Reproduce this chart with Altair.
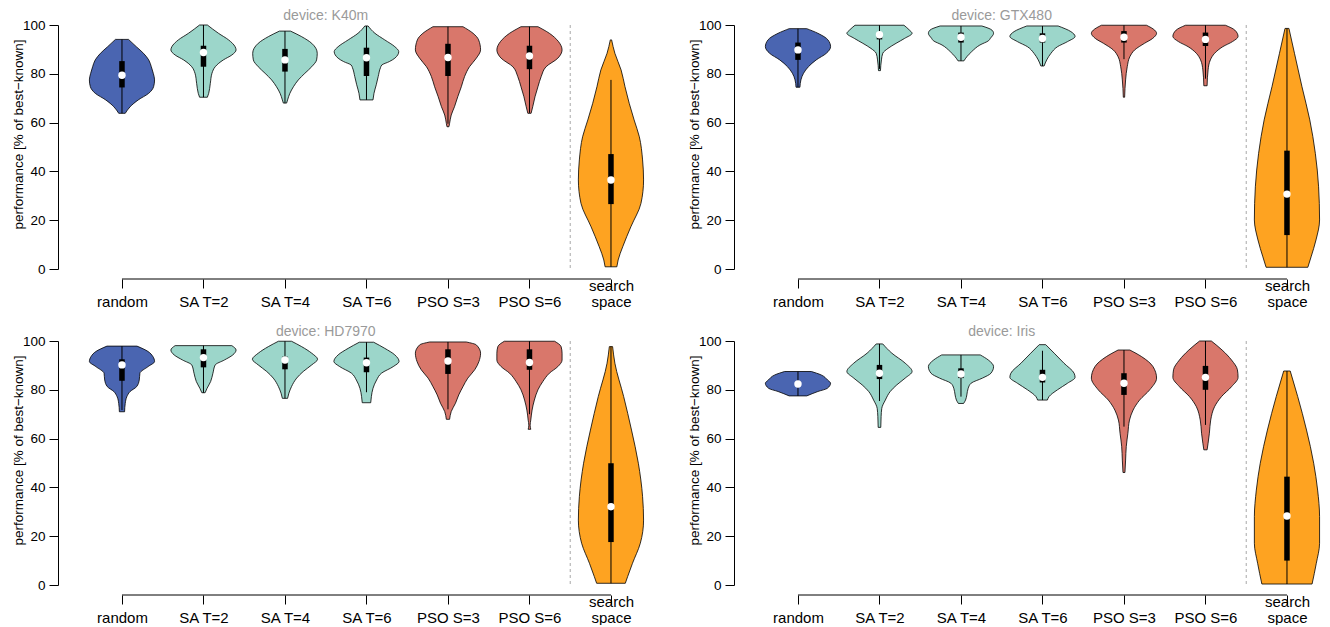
import json
import altair as alt
import pandas as pd

# ---------------- data ----------------
CATEGORIES = ["random", "SA T=2", "SA T=4", "SA T=6", "PSO S=3", "PSO S=6", "search space"]
# tick labels as lines (single-line labels sit on the last line)
X_TICK_LABELS = [["", "random"], ["", "SA T=2"], ["", "SA T=4"], ["", "SA T=6"],
                 ["", "PSO S=3"], ["", "PSO S=6"], ["search", "space"]]
GROUPS = ["random", "SA", "SA", "SA", "PSO", "PSO", "search"]
GROUP_NAMES = ["random", "SA", "PSO", "search"]
GROUP_COLORS = ["#4a65b1", "#9cd6ca", "#d9776b", "#fea321"]
DEVICES = ["K40m", "GTX480", "HD7970", "Iris"]
Y_TICKS = [0, 20, 40, 60, 80, 100]

# violin outlines: performance levels (bottom -> top) and relative half-widths
K40M_Y = [
    [63.8, 66.5, 69.3, 72.0, 74.7, 77.5, 80.2, 82.9, 85.7, 88.4, 91.1, 94.1],
    [70.4, 72.0, 76.1, 80.2, 82.9, 85.7, 87.7, 89.8, 91.1, 93.9, 96.6, 100.0],
    [68.0, 69.3, 72.0, 74.7, 77.5, 80.2, 82.9, 85.7, 88.4, 92.5, 95.3, 97.5],
    [69.3, 72.0, 75.5, 78.9, 82.5, 83.6, 85.0, 86.4, 89.1, 91.1, 93.9, 96.6, 99.6],
    [58.3, 59.7, 63.1, 66.5, 70.6, 74.7, 78.9, 82.9, 86.4, 89.8, 93.9, 96.6, 99.3],
    [63.8, 66.5, 70.6, 74.7, 78.9, 82.9, 86.4, 89.8, 93.2, 96.6, 99.3],
    [0.9, 3.7, 9.1, 17.3, 26.9, 36.5, 44.7, 54.2, 61.1, 67.9, 74.7, 81.6, 88.4, 93.9],
]
K40M_W = [
    [0.10, 0.25, 0.50, 0.82, 0.97, 1.00, 0.96, 0.90, 0.82, 0.66, 0.44, 0.20],
    [0.12, 0.16, 0.21, 0.26, 0.36, 0.61, 0.87, 1.00, 0.97, 0.77, 0.46, 0.12],
    [0.05, 0.08, 0.15, 0.26, 0.41, 0.61, 0.82, 0.97, 0.99, 0.82, 0.50, 0.17],
    [0.20, 0.23, 0.30, 0.36, 0.43, 0.47, 0.70, 0.87, 0.99, 0.87, 0.56, 0.26, 0.05],
    [0.03, 0.05, 0.10, 0.20, 0.30, 0.41, 0.51, 0.66, 0.87, 1.00, 0.94, 0.77, 0.46],
    [0.05, 0.10, 0.17, 0.26, 0.36, 0.51, 0.87, 1.00, 0.89, 0.61, 0.26],
    [0.18, 0.22, 0.36, 0.61, 0.92, 1.00, 0.97, 0.87, 0.71, 0.56, 0.43, 0.31, 0.12, 0.02],
]
# box statistics: q1, median, q3, lower whisker, upper whisker
K40M_BOX = [
    [74.4, 79.4, 85.2, 63.8, 94.1],
    [82.9, 88.7, 91.5, 70.4, 100.0],
    [80.9, 85.7, 90.2, 68.0, 97.5],
    [79.1, 86.6, 90.7, 69.3, 99.6],
    [79.1, 86.7, 92.3, 59.5, 99.3],
    [81.9, 87.3, 91.5, 64.0, 99.3],
    [26.6, 36.5, 47.1, 0.9, 77.5],
]

GTX480_Y = [
    [74.5, 77.5, 80.2, 82.9, 85.7, 88.4, 91.1, 93.9, 96.6, 98.5],
    [81.3, 85.7, 88.4, 90.4, 92.5, 94.5, 96.6, 97.9, 99.9],
    [85.3, 87.0, 89.1, 91.8, 93.6, 94.5, 96.6, 97.9, 99.6],
    [83.2, 85.7, 88.4, 91.1, 93.2, 95.3, 97.3, 99.6],
    [70.4, 77.5, 82.9, 87.0, 89.8, 92.5, 94.5, 96.6, 97.9, 99.9],
    [75.1, 81.6, 85.7, 88.4, 91.1, 93.2, 95.3, 97.9, 99.9],
    [0.7, 5.0, 11.9, 20.1, 33.7, 47.4, 61.1, 74.7, 88.4, 98.6],
]
GTX480_W = [
    [0.06, 0.09, 0.17, 0.32, 0.56, 0.87, 1.00, 0.92, 0.61, 0.27],
    [0.03, 0.06, 0.10, 0.26, 0.51, 0.77, 1.00, 0.92, 0.75],
    [0.09, 0.18, 0.33, 0.58, 0.85, 0.90, 1.00, 0.95, 0.64],
    [0.05, 0.13, 0.26, 0.46, 0.77, 1.00, 0.87, 0.48],
    [0.02, 0.05, 0.10, 0.18, 0.33, 0.63, 0.88, 1.00, 0.94, 0.69],
    [0.05, 0.08, 0.15, 0.28, 0.53, 0.83, 1.00, 0.90, 0.61],
    [0.64, 0.74, 0.89, 1.00, 0.97, 0.87, 0.70, 0.46, 0.23, 0.06],
]
GTX480_BOX = [
    [85.7, 89.8, 92.8, 74.5, 98.5],
    [94.1, 96.0, 96.6, 82.0, 99.9],
    [92.8, 95.0, 96.9, 85.3, 99.6],
    [92.8, 94.5, 96.6, 83.2, 99.6],
    [92.8, 95.0, 97.5, 86.0, 99.9],
    [91.4, 94.1, 96.9, 78.0, 99.9],
    [13.9, 30.7, 48.5, 0.7, 98.6],
]

HD7970_Y = [
    [71.0, 74.4, 77.2, 79.3, 81.3, 84.0, 86.8, 89.5, 91.6, 93.6, 95.7, 97.9],
    [78.8, 80.6, 83.4, 86.8, 90.2, 92.2, 94.3, 96.3, 98.1],
    [76.5, 78.6, 81.3, 84.8, 87.5, 90.2, 92.5, 95.0, 97.7, 99.9],
    [74.7, 77.2, 80.6, 84.0, 86.8, 89.5, 91.6, 94.3, 97.0, 99.5],
    [67.9, 71.1, 74.5, 77.9, 81.3, 84.8, 88.2, 91.6, 95.0, 98.4, 99.6],
    [63.8, 65.5, 67.6, 71.7, 75.8, 80.0, 83.4, 86.8, 89.5, 92.2, 95.0, 97.7, 99.9],
    [0.7, 3.4, 8.9, 17.1, 26.6, 36.2, 49.9, 63.5, 77.2, 90.9, 97.7],
]
HD7970_W = [
    [0.08, 0.10, 0.15, 0.25, 0.45, 0.53, 0.55, 0.80, 1.00, 0.95, 0.80, 0.46],
    [0.05, 0.11, 0.22, 0.29, 0.36, 0.64, 0.90, 1.00, 0.87],
    [0.08, 0.12, 0.20, 0.36, 0.56, 0.82, 1.00, 0.82, 0.51, 0.20],
    [0.13, 0.15, 0.20, 0.31, 0.46, 0.82, 1.00, 0.87, 0.56, 0.22],
    [0.05, 0.10, 0.23, 0.33, 0.46, 0.61, 0.82, 0.95, 1.00, 0.87, 0.56],
    [0.04, 0.02, 0.04, 0.08, 0.15, 0.26, 0.41, 0.61, 0.87, 1.00, 1.00, 0.97, 0.77],
    [0.44, 0.51, 0.66, 0.90, 1.00, 0.97, 0.84, 0.63, 0.39, 0.12, 0.05],
]
HD7970_BOX = [
    [83.7, 90.2, 92.5, 71.7, 97.9],
    [89.2, 93.2, 96.6, 78.8, 98.1],
    [88.4, 92.2, 93.6, 76.5, 99.9],
    [87.2, 91.1, 93.2, 79.0, 99.5],
    [86.5, 91.8, 96.6, 72.0, 99.6],
    [88.2, 91.2, 96.6, 70.0, 99.9],
    [17.6, 32.1, 49.9, 0.7, 97.7],
]

IRIS_Y = [
    [77.5, 79.3, 80.6, 82.7, 84.0, 86.1, 87.5],
    [64.6, 69.0, 72.4, 75.8, 79.3, 82.0, 84.8, 87.5, 90.9, 95.0, 98.8],
    [74.4, 75.8, 77.9, 80.6, 82.7, 84.8, 86.8, 89.5, 92.2, 94.3],
    [75.8, 77.2, 80.0, 82.7, 85.1, 86.8, 90.9, 95.0, 98.5],
    [46.1, 51.2, 56.7, 62.2, 67.6, 71.7, 75.8, 80.0, 84.8, 89.5, 93.6, 96.3],
    [55.4, 58.1, 62.2, 67.6, 73.1, 77.2, 81.3, 85.1, 88.2, 92.2, 96.3, 100.0],
    [0.4, 8.9, 17.1, 28.0, 38.9, 49.9, 63.5, 77.2, 87.7],
]
IRIS_W = [
    [0.27, 0.61, 0.90, 1.00, 0.91, 0.71, 0.41],
    [0.04, 0.05, 0.07, 0.18, 0.33, 0.53, 0.79, 1.00, 0.79, 0.38, 0.10],
    [0.08, 0.14, 0.18, 0.22, 0.31, 0.66, 0.92, 1.00, 0.84, 0.59],
    [0.15, 0.20, 0.46, 0.77, 1.00, 0.97, 0.66, 0.36, 0.10],
    [0.03, 0.05, 0.07, 0.12, 0.17, 0.28, 0.48, 0.79, 1.00, 0.89, 0.54, 0.18],
    [0.05, 0.08, 0.12, 0.16, 0.28, 0.49, 0.80, 1.00, 0.98, 0.80, 0.51, 0.18],
    [0.77, 0.90, 1.00, 1.00, 0.94, 0.82, 0.60, 0.33, 0.10],
]
IRIS_BOX = [
    [81.5, 82.4, 83.5, 77.5, 87.5],
    [84.4, 86.8, 90.2, 75.4, 98.8],
    [84.8, 86.5, 88.8, 77.2, 94.3],
    [83.0, 85.1, 88.2, 75.8, 96.0],
    [77.9, 82.7, 86.8, 64.9, 96.3],
    [80.0, 85.1, 89.8, 65.6, 100.0],
    [10.0, 28.3, 44.4, 0.4, 87.7],
]

# ---------------- layout / style ----------------
FONT = "Liberation Sans"
PW, PH = 585, 244
X_DOMAIN = [-0.785, 6.393]
HALF = 0.4            # maximal half-width of a violin, in category units
AXIS_OFFSET = 10


def panel(device, ys, ws, boxes):
    vrows = []
    for i, (yl, wl) in enumerate(zip(ys, ws)):
        for y, w in zip(yl, wl):
            vrows.append({"cat": i, "group": GROUPS[i], "y": y, "w": w})
    vdf = pd.DataFrame(vrows)
    bdf = pd.DataFrame([
        {"cat": i, "q1": b[0], "med": b[1], "q3": b[2], "lo": b[3], "hi": b[4]}
        for i, b in enumerate(boxes)
    ])
    one = pd.DataFrame({"k": [0]})

    xs = alt.Scale(domain=X_DOMAIN, nice=False, zero=False)
    ysc = alt.Scale(domain=[0, 100], nice=False, zero=False)
    label_expr = json.dumps(X_TICK_LABELS).replace('"', "'") + "[datum.value]"

    xaxis = alt.Axis(
        values=list(range(len(CATEGORIES))), labelExpr=label_expr, title=None,
        grid=False, domain=False, offset=AXIS_OFFSET, tickSize=9, tickColor="black",
        labelFontSize=15, labelColor="black", labelBaseline="alphabetic",
        labelPadding=2, labelLineHeight=16, labelFont=FONT,
    )
    yaxis = alt.Axis(
        values=Y_TICKS, grid=False, tickSize=9, tickColor="black", domainColor="black",
        labelFontSize=13.5, labelColor="black", labelPadding=4, labelFont=FONT,
        title="performance [% of best\u2212known]", titleFontSize=13.5,
        titleFontWeight="normal", titleColor="black", titleFont=FONT,
        titleX=-40, titleY=109, titleAngle=270, titleAlign="center",
        titleBaseline="middle",
    )

    violins = alt.Chart(vdf).transform_calculate(
        xl=f"datum.cat - {HALF} * datum.w", xr=f"datum.cat + {HALF} * datum.w"
    ).mark_area(
        orient="horizontal", interpolate="monotone", stroke="black",
        strokeWidth=0.8, opacity=1, fillOpacity=1,
    ).encode(
        x=alt.X("xl:Q", scale=xs, axis=xaxis),
        x2="xr:Q",
        y=alt.Y("y:Q", scale=ysc, axis=yaxis),
        detail="cat:N",
        color=alt.Color("group:N", scale=alt.Scale(domain=GROUP_NAMES, range=GROUP_COLORS), legend=None),
    )

    whisk = alt.Chart(bdf).mark_rule(color="black", strokeWidth=1).encode(
        x="cat:Q", y="lo:Q", y2="hi:Q"
    )
    box = alt.Chart(bdf).mark_rule(color="black", strokeWidth=5.5, strokeCap="butt").encode(
        x="cat:Q", y="q1:Q", y2="q3:Q"
    )
    med = alt.Chart(bdf).mark_point(filled=True, color="white", opacity=1, size=55, shape="circle").encode(
        x="cat:Q", y="med:Q"
    )
    sep = alt.Chart(one).mark_rule(color="#a8a8a8", strokeDash=[3, 3], strokeWidth=1).encode(
        x=alt.datum(5.5), y=alt.value(0), y2=alt.value(PH)
    )
    xline = alt.Chart(one).mark_rule(color="black", strokeWidth=1).encode(
        x=alt.datum(0), x2=alt.datum(len(CATEGORIES) - 1), y=alt.value(PH + AXIS_OFFSET)
    )
    title = alt.Chart(one).mark_text(
        text=f"device: {device}", color="#9a9a9a", fontSize=14, font=FONT,
        baseline="alphabetic", align="center",
    ).encode(x=alt.datum(2.5), y=alt.value(-5))

    return alt.layer(violins, sep, whisk, box, med, xline, title).properties(width=PW, height=PH)


p1 = panel(DEVICES[0], K40M_Y, K40M_W, K40M_BOX)
p2 = panel(DEVICES[1], GTX480_Y, GTX480_W, GTX480_BOX)
p3 = panel(DEVICES[2], HD7970_Y, HD7970_W, HD7970_BOX)
p4 = panel(DEVICES[3], IRIS_Y, IRIS_W, IRIS_BOX)

row1 = alt.HConcatChart(hconcat=[p1, p2], spacing=91, bounds="flush")
row2 = alt.HConcatChart(hconcat=[p3, p4], spacing=91, bounds="flush")
chart = alt.VConcatChart(vconcat=[row1, row2], spacing=16).properties(
    padding={"left": 2, "top": 1, "right": 0, "bottom": 0}
).configure(font=FONT).configure_view(stroke=None)

chart.save("out.html", embed_options={"renderer": "svg", "actions": False})
